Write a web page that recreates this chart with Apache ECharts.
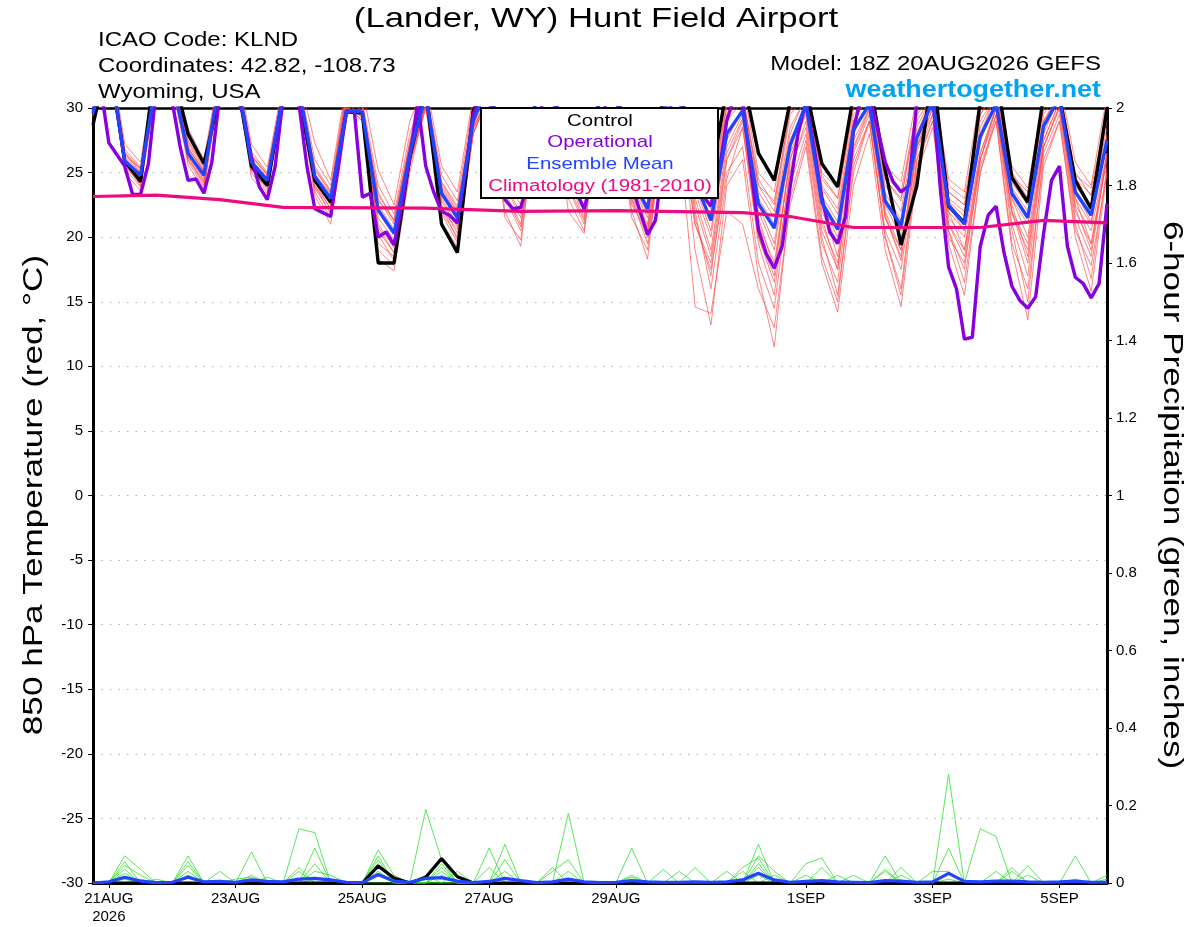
<!DOCTYPE html>
<html>
<head>
<meta charset="utf-8">
<script src="https://cdn.jsdelivr.net/npm/echarts@6.0.0/dist/echarts.min.js"></script>
<style>
html,body{margin:0;padding:0;background:#fff;}
#chart{width:1200px;height:927px;}
</style>
</head>
<body>
<div id="chart"></div>
<script>
// ---------- time axis (hours since 20AUG2026 00Z) ----------
const startHour = 18;        // 20AUG 18Z model run
const endHour = 402;         // 5SEP 18Z
const stepEns = 6;           // ensemble output every 6 h
const stepOper = 3;          // operational output every 3 h
const tickHours = [24, 72, 120, 168, 216, 288, 336, 384];
const tickLabels = ['21AUG\n2026', '23AUG', '25AUG', '27AUG', '29AUG', '1SEP', '3SEP', '5SEP'];

// ---------- 850 hPa temperature (C), 6-hourly from 20AUG 18Z ----------
const controlTemp = [28.7,
  34,25.9,24.3,34, 33,28.0,25.7,31, 32.8,25.5,24.0,31, 31,24.4,22.7,29.7,
  29.6,18.0,18.0,26.2, 31.5,21.0,18.8,29.8, 32,25.5,24.0,31, 32,25.2,23.8,31,
  32,25.0,23.5,31, 32,25.5,24.5,31.5, 32.5,26.5,24.4,30.5, 31.5,25.7,23.9,31,
  32.2,25.2,19.4,24.0, 33,22.4,21.1,30.5, 32.9,24.6,22.7,31, 30.9,24.4,22.2,30];

const meanTemp = [29.6,
  34,25.9,24.8,32.2, 32.2,26.5,24.8,32.2, 33,25.8,24.4,31, 31.5,24.7,23.0,29.8,
  29.7,22.1,20.3,26.5, 31,23.4,21.5,29, 32,25.5,23.8,31, 32,25.5,23.6,31,
  31,24.5,22.2,30, 31,24.3,21.3,28.0, 29.8,22.6,20.7,27.1, 30.3,22.7,20.6,28.3,
  30.3,22.8,20.9,27.7, 30.5,22.5,21.0,27.8, 30.3,23.4,21.5,28.6, 30.8,23.5,21.7,27.5];

// operational run, 3-hourly from 20AUG 18Z
const operTemp = [29.8, 31.5,
  27.3,26.4,25.5,23.3,23.3,25.7,31.5,33,
  30.5,27.0,24.4,24.5,23.4,25.8,31,33,
  31,29.5,26.2,23.9,22.9,25.5,30.8,33,
  30.3,25.5,22.2,21.9,21.6,25.5,29.8,29.7,
  23.1,23.4,20.0,20.4,19.4,22.5,26.2,30.5,
  25.5,23.5,22.0,21.7,21.1,25.0,29.5,31,
  31,26,22.9,22.2,22.3,24.5,28.5,31,
  31,27.5,25,23.5,22.2,24.5,28.5,31,
  31,27,24.0,22.1,20.2,21.3,26,30.5,
  31,27,24.5,23.2,22.4,25,29,31,
  30.5,25.5,20.6,18.7,17.6,19.3,23.9,28.0,
  30.5,27,23.1,20.4,19.5,21.6,28.3,31,
  31,28.5,25.8,24.3,23.5,24.0,30.5,32,
  31,23.5,17.7,16.0,12.1,12.25,19.3,21.7,
  22.4,18.8,16.2,15.1,14.5,15.4,20.3,24.4,
  25.5,19.3,16.9,16.4,15.3,16.4,22.6];

const climHours = [18, 42, 66, 90, 144, 180, 216, 264, 282, 306, 354, 378, 402];
const climTemp  = [23.15, 23.25, 22.9, 22.3, 22.25, 22.0, 22.05, 21.9, 21.6, 20.75, 20.75, 21.3, 21.1];

const tempMembers = [
 [29.5, 33,26.2,25.0,32, 32,26.8,25.2,32, 33,26.0,24.6,31, 31,24.9,23.3,31, 30,22.5,20.6,27, 31,23.8,21.9,29.5, 32,25.4,23.8,31, 32,25.8,24.0,31, 31,24.4,22.0,30, 31,24.5,22.2,29, 30.5,23.0,21.0,28, 31,23.2,21.2,29, 31,23.4,21.3,28.5, 31,22.8,21.6,28, 31,23.8,22.0,29, 31,24.0,22.2,28],
 [29.2, 33.5,25.5,24.2,31.5, 31.5,26,24.2,31.5, 32,25.2,23.8,30.5, 30.5,24.0,22.2,30.2, 29,21.0,19.2,25.5, 30,22.5,20.3,28, 31,24.0,21.5,30, 31,24.5,22.0,30, 30,22.8,20.0,28, 29,21.0,17.5,25, 27,18.0,14.5,24, 28,19.5,16.5,26, 29,20.5,17.5,26, 29,20,18.0,25.5, 29,19.5,16.0,26, 29,20.5,17.8,25],
 [30, 35,27.2,25.8,33.5, 33,28.4,26.0,33, 34,27.2,25.4,32, 32.5,27.3,24.4,32, 31.5,25.2,22.5,29, 32,25.5,23.5,31, 33,27,25,32, 33,26.8,25,32, 32,26,24,31.5, 32,26,24.5,31, 32,25,23.5,31, 32,25,23.8,31, 32,25.5,24.3,31, 32,24.5,23.5,31, 32,25.5,23.8,31, 32,25.8,24.0,31],
 [29.6, 34,25.0,23.6,32, 32,25.6,23.6,32, 33,24.6,23.2,31, 31,23.2,21.0,30, 29.5,18.3,17.4,25, 30.5,21.2,19.2,28, 31.5,22,19.3,30, 31.5,23,20.5,30, 30.5,22,18.3,29, 30,19,13.2,24, 26,17,11.5,23, 27.5,18.5,15,25.5, 29,20,16,26, 29.5,20.5,17.5,26, 30,21,17,27, 30,21.5,18.5,26.5],
 [29.8, 34,26.5,25.2,32.5, 32.5,27.5,25.5,32.5, 33,26.4,24.8,31.5, 31.5,25.5,23.6,31, 30,23.5,21.2,27.5, 31.5,24.3,22.4,29.5, 32,26,24.5,31, 32.5,26.5,24.8,31.5, 31.5,25,23,31, 31.5,25.5,23.8,30, 31,24.5,22.5,30, 31,24.8,23,30.5, 31.5,24.5,22.8,30, 31.5,23.5,22.5,29.5, 31.5,25,23,30, 31.5,25,23.2,29.5],
 [29.4, 33,25.6,24.0,31.5, 31.5,26.2,24.0,31.5, 32.5,25.5,23.9,30.5, 30.5,24.0,21.8,30, 29.5,19.5,18.5,26, 30.5,22.0,20.0,28.5, 31,23,20.5,29.5, 31,24,21.3,30, 30,23,19.5,28.5, 29.5,22,16.0,24.5, 28.5,20,16.5,25, 29,20.5,17.5,26.5, 29.5,21.5,18.5,27, 29.5,21,19,26, 29.5,22,18,27, 30,22,19.5,26],
 [29.7, 34.5,26.8,25.4,33, 32.5,27.8,25.6,32.5, 33.5,26.6,25.0,31.5, 32,26.0,24.0,31.5, 30.5,24,21.8,28, 31.5,24.8,22.8,30.5, 32.5,26.5,24.5,31.5, 32.5,26.8,24.8,31.5, 31.5,25.5,23.5,30.5, 31,24.8,23,30, 31,24,22,29.5, 31,24,22.2,29.5, 31,24.5,23,29.5, 31,23.5,22.5,29, 31,24.5,22.8,29.5, 31.5,24.5,23.3,29],
 [29.3, 33.5,25.3,23.9,32, 31.8,25.9,23.8,32, 32.5,25.0,23.4,30.8, 31,23.5,21.5,30.2, 29,20.2,18.2,25.8, 30,21.8,19.6,28, 31,21.5,19.8,29.5, 31.5,22,20.3,30, 30,21.5,19.0,28, 28,14.6,14.1,22, 21,16,13,22.5, 27,18,14.2,24, 28,19,14.6,25, 28.5,19.5,15.5,25, 29,19,13.6,25.5, 29,20,15.8,25],
 [29.6, 34,26.0,24.6,32.3, 32.3,26.6,24.8,32.2, 33,25.8,24.3,31, 31.5,24.6,22.8,30.8, 29.8,22.0,20.2,26.8, 31,23.3,21.4,29, 32,25,23,31, 32,25.5,23.5,31, 31,24,21.5,30, 31,24,20.5,28, 30,22,19,27, 30.5,22,19.5,28, 30.5,22.5,20,28, 31,22,20.5,27.5, 30.5,23,21,28.5, 31,23,21,27.5],
 [29.9, 34.5,26.5,25.0,32.8, 32.8,27.2,25.2,32.8, 33.5,26.2,24.8,31.3, 31.8,25.2,23.4,31.2, 30.2,23,21,27, 31.2,24,22,29.8, 32.3,25.8,24,31.3, 32.3,26,24.2,31.2, 31.3,24.8,22.5,30.2, 31.2,25,22.8,29.5, 30.5,23.5,21.5,28.5, 30.8,23.8,21.8,29, 31,24,22,29, 31,23,22,28.5, 31,24.2,22.5,29, 31.2,24.3,22.5,28.5],
 [29.5, 33.5,25.8,24.4,31.8, 31.8,26.4,24.4,31.8, 32.8,25.5,24.0,30.8, 31.2,24.2,22.2,30.5, 29.2,20.8,18.8,26, 30.2,22.8,20.8,28.5, 31,23.5,21,29, 31,24.5,21.5,29.5, 30,23,20.5,27, 29,21,18,26, 29,20,17,26.5, 29.5,21,18,27, 30,21.5,19,27, 30,21.5,20,26.5, 30,22,19.5,27.5, 30.5,22.5,20.5,26.5],
 [29.7, 34,26.3,25.3,32.5, 32.2,27,25,32.4, 33,26,24.6,31.2, 31.6,24.8,23.0,31, 30,22.8,21.4,27.2, 31.2,23.6,21.8,29.2, 32,25.2,23.2,31, 32,25.4,23.4,31, 31,24.2,21.8,30, 30.5,23,19,27, 29.5,21.5,17.5,26, 30,22.5,18.5,27.5, 30,22,19,27, 30.5,22,19,26.5, 30,22.5,18.5,27.5, 30.5,23,19.5,26.5],
 [29.6, 33.8,26.1,24.9,32.1, 32.1,26.9,25.1,32.1, 33.2,25.9,24.5,31.1, 31.3,24.5,22.5,30.6, 29.7,21.5,19.8,26.5, 31,23.0,21.0,29, 31.8,24.5,22.5,30.8, 31.8,25,23,31, 30.8,23.5,21,29.5, 30.5,23.5,20,27.5, 30,22.5,19.5,27.5, 30.2,22.5,20,28, 30.5,23,20.5,28, 30.8,22.5,20.5,27.5, 30.5,23,20,28, 31,23.5,21.2,27.8],
 [29.4, 33.2,25.7,24.3,31.8, 31.7,26.2,24.3,31.7, 32.6,25.3,23.6,30.6, 30.8,23.8,21.9,30.1, 29.3,20.5,18.8,25.9, 30.3,22.2,20.6,28.3, 31.2,23.2,20.8,29.8, 31.2,23.8,21,29.8, 30.2,22.5,20.5,28.5, 29.8,21.5,17,26, 28.5,19.5,15.5,25.5, 28.5,20,15.5,25, 29,20,15.5,25.5, 29,20.5,16.5,25, 29.5,20.5,15,26.5, 29.5,21,16.8,25.5],
 [29.8, 34.2,26.6,25.3,32.6, 32.6,27.4,25.4,32.6, 33.3,26.3,24.9,31.4, 31.7,25.3,23.5,31.1, 30.1,23.3,21.3,27.3, 31.3,24.2,22.2,30, 32.2,25.7,24.2,31.4, 32.2,26.2,24.5,31.4, 31.4,25.2,23.2,30.8, 31.2,25,23.5,30.5, 31,24,22.8,29.8, 31.2,24.5,23,30, 31.3,24.8,23.5,30, 31.3,24,23,29.5, 31.2,24.8,23.5,30, 31.4,24.8,23.8,29.5],
 [29.5, 33.6,25.9,24.5,31.9, 31.9,26.5,24.6,31.9, 32.9,25.6,24.1,30.9, 31.1,24.3,22.5,30.4, 29.4,19.0,17.8,26.2, 30.6,22.4,19.8,28.7, 31.4,24.2,21.8,30.2, 31.4,24.8,22.3,30.3, 30.4,23.2,20.8,28.8, 29.5,22.5,18.5,26.5, 29.2,21,18,26, 29.8,21.5,17.5,26.8, 29.8,21.8,18.2,26.6, 30,21,18.5,26, 30,21.8,19,27, 30.2,22.3,19,26.2]
];

// ---------- 6-hour precipitation (inches), 6-hourly from 20AUG 18Z ----------
const controlPrecip = [0,0,0,0,0,0,0,0,0,0, 0,0,0,0,0,0,0,0,.044,.013, 0,.015,.063,.016,0,0,0,0,0,0,
  0,0,0,0,0,0,0,0,0,0, 0,0,0,0,0,0,0,0,0,0, 0,0,0,0,0,0,0,0,0,0, 0,0,0,0,0];
const meanPrecip = [0,.003,.015,.005,.001,.002,.015,.003,.004,.002, .008,.004,.003,.01,.012,.008,.002,.001,.022,.005,
  .002,.012,.014,.005,.001,.004,.012,.006,.001,.003, .01,.003,.001,.002,.006,.003,.002,.002,.003,.002,
  .003,.008,.025,.008,.002,.004,.006,.003,.002,.001, .006,.005,.002,.003,.025,.004,.003,.005,.005,.003,
  .002,.003,.005,.002,.002];
const precipMembers = [
 [0,0,.07,.035,0,0,.02,0,0,0, 0,0,0,.14,.13,0,0,0,0,0, 0,.19,.06,0,0,0,0,0,0,0, .18,0,0,0,0,0,0,0,0,0, 0,0,.05,0,0,0,0,0,0,0, 0,0,0,0,.28,0,0,0,0,0, 0,0,.07,0,0],
 [0,0,.055,0,0,0,.07,0,0,0, .08,0,0,0,.05,0,0,0,.085,.02, 0,0,0,0,0,0,.1,0,0,0, 0,0,0,0,.02,0,0,0,0,0, 0,0,.1,0,0,0,.04,0,0,0, .03,0,0,0,0,0,.14,.12,0,0, 0,0,0,0,.02],
 [0,0,.045,.02,0,0,.055,0,.03,0, 0,0,0,.04,0,0,0,0,.07,0, 0,0,.05,0,0,.09,0,0,0,.03, .06,0,0,0,0,0,0,0,.04,0, 0,0,.07,.03,0,0,0,0,0,0, .07,0,0,0,.09,0,0,0,0,.045, 0,0,0,0,0],
 [0,0,.035,0,0,0,.045,0,0,0, .02,0,0,0,.09,0,0,0,.06,0, 0,0,.04,0,0,0,.06,0,0,0, 0,0,0,0,.09,0,.035,0,0,0, 0,.04,.065,0,0,.05,.065,0,0,0, 0,.04,0,0,0,0,0,0,.04,0, 0,0,0,0,0],
 [0,0,.025,0,.01,0,.03,0,0,0, 0,.015,0,0,.03,.02,0,0,.05,0, 0,0,0,.03,0,.04,0,0,0,.04, 0,0,0,0,0,0,0,.03,0,0, 0,0,.04,0,0,0,0,.02,0,0, 0,0,0,.03,.03,0,0,0,.03,0, 0,0,0,0,0],
 [0,0,.015,0,0,0,0,0,0,.01, .015,0,0,.03,0,0,0,0,.04,.01, 0,.02,0,0,0,0,.03,0,0,0, .03,0,0,0,.015,0,0,0,0,0, .03,0,0,.02,0,0,0,0,.02,0, .035,0,0,0,0,0,0,.03,0,0, 0,0,.01,0,0],
 [0,0,0,.01,0,0,.02,0,0,0, 0,0,0,0,0,0,0,0,.03,0, 0,0,.03,0,0,0,0,0,0,0, 0,0,0,0,0,0,0,0,0,0, 0,.03,0,0,0,.02,0,0,0,0, 0,.02,0,0,0,0,0,0,0,.02, 0,0,0,0,0],
 [0,0,.01,0,0,0,0,0,0,0, 0,0,0,0,.01,0,0,0,.02,0, 0,0,.02,0,0,0,0,0,0,0, .01,0,0,0,0,0,0,0,0,0, 0,0,.02,0,0,0,0,0,0,0, 0,0,0,0,.01,0,0,0,0,0, 0,0,0,0,.01]
];

// ---------- helpers: pair values with their forecast hour ----------
function withHours(vals, step) { return vals.map((v, i) => [startHour + i * step, v]); }
function pairs(hs, vs) { return hs.map((h, i) => [h, vs[i]]); }

const FONT = '"Liberation Sans", Arial, Helvetica, sans-serif';
const C_CONTROL = '#000000', C_OPER = '#8800dd', C_MEAN = '#2244ff', C_CLIM = '#ee0a80';
const C_RED = '#ff4a4a', C_GREEN = '#2ee02e';

const series = [];
tempMembers.forEach(m => series.push({
  type: 'line', xAxisIndex: 0, yAxisIndex: 0, data: withHours(m, stepEns),
  symbol: 'none', silent: true, z: 2, clip: true,
  lineStyle: { color: C_RED, width: 0.8, opacity: 0.85 }
}));
precipMembers.forEach(m => series.push({
  type: 'line', xAxisIndex: 0, yAxisIndex: 1, data: withHours(m, stepEns),
  symbol: 'none', silent: true, z: 3, clip: true,
  lineStyle: { color: C_GREEN, width: 0.8 }
}));
series.push(
  { type: 'line', yAxisIndex: 1, data: withHours(controlPrecip, stepEns), symbol: 'none', z: 4, clip: true,
    lineStyle: { color: C_CONTROL, width: 3.2 } },
  { type: 'line', yAxisIndex: 1, data: withHours(meanPrecip, stepEns), symbol: 'none', z: 5, clip: true,
    lineStyle: { color: C_MEAN, width: 3.2 } },
  { type: 'line', yAxisIndex: 0, data: withHours(controlTemp, stepEns), symbol: 'none', z: 6, clip: true,
    lineStyle: { color: C_CONTROL, width: 3.4 } },
  { type: 'line', yAxisIndex: 0, data: withHours(operTemp, stepOper), symbol: 'none', z: 7, clip: true,
    lineStyle: { color: C_OPER, width: 3.4 } },
  { type: 'line', yAxisIndex: 0, data: withHours(meanTemp, stepEns), symbol: 'none', z: 8, clip: true,
    lineStyle: { color: C_MEAN, width: 3.4 } },
  { type: 'line', yAxisIndex: 0, data: pairs(climHours, climTemp), symbol: 'none', z: 9, clip: true,
    lineStyle: { color: C_CLIM, width: 3.2 } }
);

const labelOf = {};
tickHours.forEach((h, i) => { labelOf[h] = tickLabels[i]; });

function txt(text, x, y, size, color, align, extra, weight) {
  return Object.assign({
    type: 'text', x: x, y: y, z: 200,
    style: { text: text, font: (weight ? weight + ' ' : '') + size + 'px ' + FONT, fill: color,
      align: align, textAlign: align, verticalAlign: 'middle', textVerticalAlign: 'middle' }
  }, extra || {});
}

const option = {
  animation: false,
  backgroundColor: '#ffffff',
  textStyle: { fontFamily: FONT },
  grid: { left: 93, right: 93, top: 108, bottom: 44, containLabel: false },
  xAxis: [
    { type: 'value', min: startHour, max: endHour, position: 'bottom',
      axisLine: { show: true, onZero: false, lineStyle: { color: '#000', width: 3 } },
      axisTick: { show: true, customValues: tickHours, length: 5, lineStyle: { color: '#000', width: 1 } },
      axisLabel: { show: true, customValues: tickHours, formatter: v => labelOf[v] || '',
        color: '#000', fontSize: 15, fontFamily: FONT, margin: 7, lineHeight: 18 },
      splitLine: { show: false } },
    { type: 'value', min: startHour, max: endHour, position: 'top',
      axisLine: { show: true, onZero: false, lineStyle: { color: '#000', width: 2.5 } },
      axisTick: { show: false }, axisLabel: { show: false }, splitLine: { show: false } }
  ],
  yAxis: [
    { type: 'value', min: -30, max: 30, interval: 5, position: 'left',
      axisLine: { show: true, onZero: false, lineStyle: { color: '#000', width: 3 } },
      axisTick: { show: true, length: 5, lineStyle: { color: '#000', width: 1 } },
      axisLabel: { color: '#000', fontSize: 15, fontFamily: FONT, margin: 10 },
      splitLine: { show: true, lineStyle: { color: '#b0b0b0', width: 1.2, type: [1.5, 7] } } },
    { type: 'value', min: 0, max: 2, interval: 0.2, position: 'right',
      axisLine: { show: true, onZero: false, lineStyle: { color: '#000', width: 3 } },
      axisTick: { show: true, length: 5, lineStyle: { color: '#000', width: 1 } },
      axisLabel: { color: '#000', fontSize: 15, fontFamily: FONT, margin: 9,
        formatter: v => String(Math.round(v * 10) / 10) },
      splitLine: { show: false } }
  ],
  series: series,
  graphic: [
    txt('(Lander, WY) Hunt Field Airport', 596, 19, 28, '#000', 'center', { scaleX: 1.24 }),
    txt('ICAO Code: KLND', 98, 40, 20, '#000', 'left', { scaleX: 1.2 }),
    txt('Coordinates: 42.82, -108.73', 98, 66, 20, '#000', 'left', { scaleX: 1.2 }),
    txt('Wyoming, USA', 98, 92, 20, '#000', 'left', { scaleX: 1.2 }),
    txt('Model: 18Z 20AUG2026 GEFS', 1101, 64, 20, '#000', 'right', { scaleX: 1.2 }),
    txt('weathertogether.net', 1101, 90, 24, '#00a2f2', 'right', { scaleX: 1.12 }, 'bold'),
    txt('850 hPa Temperature (red, \u00B0C)', 35, 495, 27, '#000', 'center', { rotation: Math.PI / 2, scaleX: 1.3 }),
    txt('6-hour Precipitation (green, inches)', 1171, 495, 27, '#000', 'center', { rotation: -Math.PI / 2, scaleX: 1.3 }),
    { type: 'rect', z: 190, shape: { x: 481, y: 108, width: 237, height: 90 },
      style: { fill: '#ffffff', stroke: '#000000', lineWidth: 2 } },
    txt('Control', 600, 121, 17, C_CONTROL, 'center', { scaleX: 1.2 }),
    txt('Operational', 600, 142, 17, C_OPER, 'center', { scaleX: 1.2 }),
    txt('Ensemble Mean', 600, 164, 17, C_MEAN, 'center', { scaleX: 1.2 }),
    txt('Climatology (1981-2010)', 600, 186, 17, C_CLIM, 'center', { scaleX: 1.2 })
  ]
};

const chart = echarts.init(document.getElementById('chart'), null, { renderer: 'canvas' });
chart.setOption(option);
</script>
</body>
</html>
